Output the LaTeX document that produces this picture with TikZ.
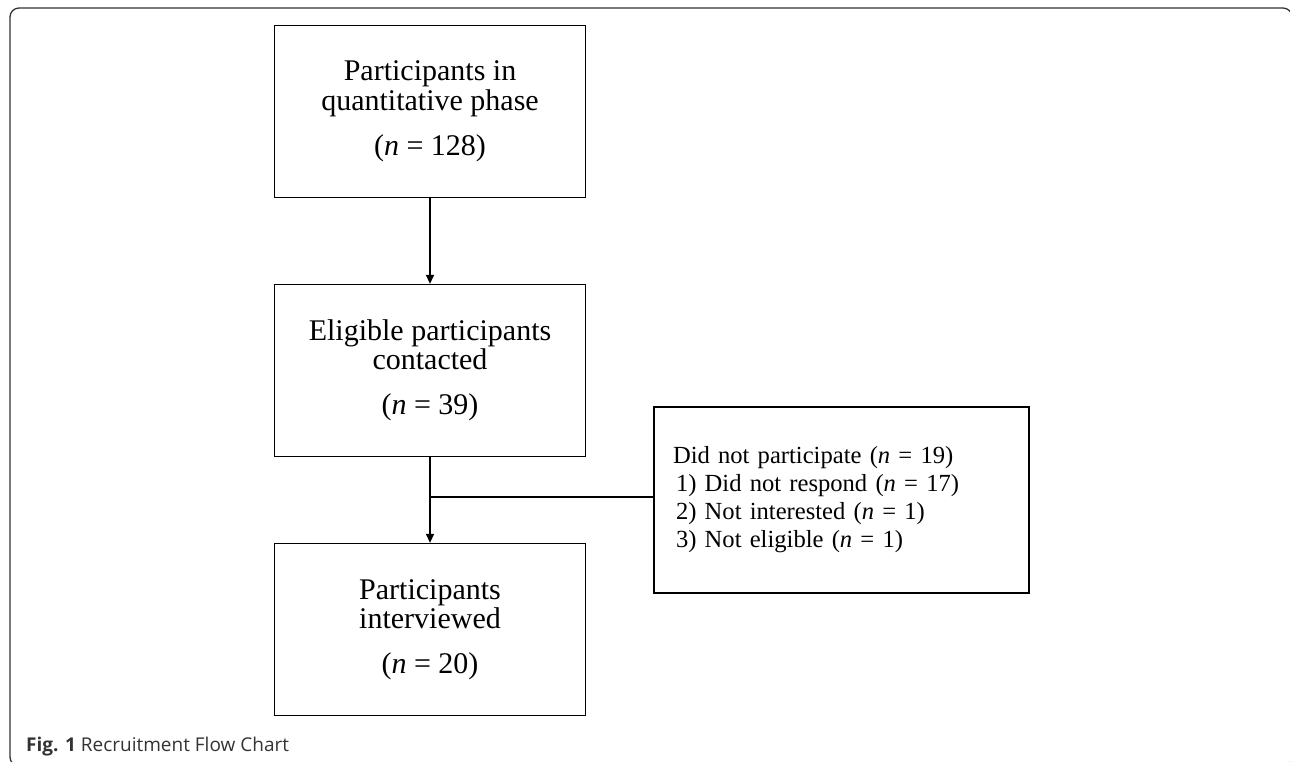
\documentclass[tikz,border=0pt]{standalone}
\usepackage{fontspec}
\setmainfont{Liberation Serif}
\newfontfamily\capfont{Open Sans}
\usetikzlibrary{arrows.meta}
\tikzset{
  box/.style={
    rectangle,
    minimum width=311pt,
    minimum height=172pt,
    inner sep=0pt,
    align=center,
    font=\fontsize{30}{29.5}\selectfont,
    line width=1.3pt,
    draw
  },
  sidebox/.style={
    rectangle,
    text width=337pt,
    minimum height=186pt,
    inner xsep=19pt,
    inner ysep=0pt,
    align=left,
    font=\fontsize{24.6}{28}\selectfont,
    line width=1.3pt,
    draw
  },
  link/.style={line width=1.3pt,-{Triangle[length=9pt,width=8pt]}}
}

\begin{document}
\begin{tikzpicture}[x=1pt,y=-1pt]
    \useasboundingbox (0,0) rectangle (1290,761);
    \clip (0,0) rectangle (1290,761);
    % frame
    \draw[line width=1.3pt,black!80,rounded corners=9pt] (10,8) rectangle (1292,766);
    % main column
    \node[box] (part) at (430,111.5) {Participants in\\quantitative phase\\[15.5pt](\textit{n} = 128)};
    \node[box] (elig) at (430,370.5) {Eligible participants\\contacted\\[15.5pt](\textit{n} = 39)};
    \node[box] (inter) at (430,629.5) {Participants\\interviewed\\[15.5pt](\textit{n} = 20)};
    % side box
    \node[sidebox] (nopart) at (841.5,500) {Did not participate (\textit{n} = 19)\\
      \hspace{3pt}1) Did not respond (\textit{n} = 17)\\
      \hspace{3pt}2) Not interested (\textit{n} = 1)\\
      \hspace{3pt}3) Not eligible (\textit{n} = 1)};
    \coordinate (split) at (430,497);
    \draw[link] (part) -- (elig);
    \draw[link] (elig) -- (inter);
    \draw[line width=1.3pt] (split) -- (split -| nopart.west);
    % caption
    \node[anchor=base west,inner sep=0pt,text=black!80,font=\capfont\fontsize{19}{23}\selectfont] (caption) at (26,751) {\textbf{Fig. 1} Recruitment Flow Chart};
\end{tikzpicture}
\end{document}
